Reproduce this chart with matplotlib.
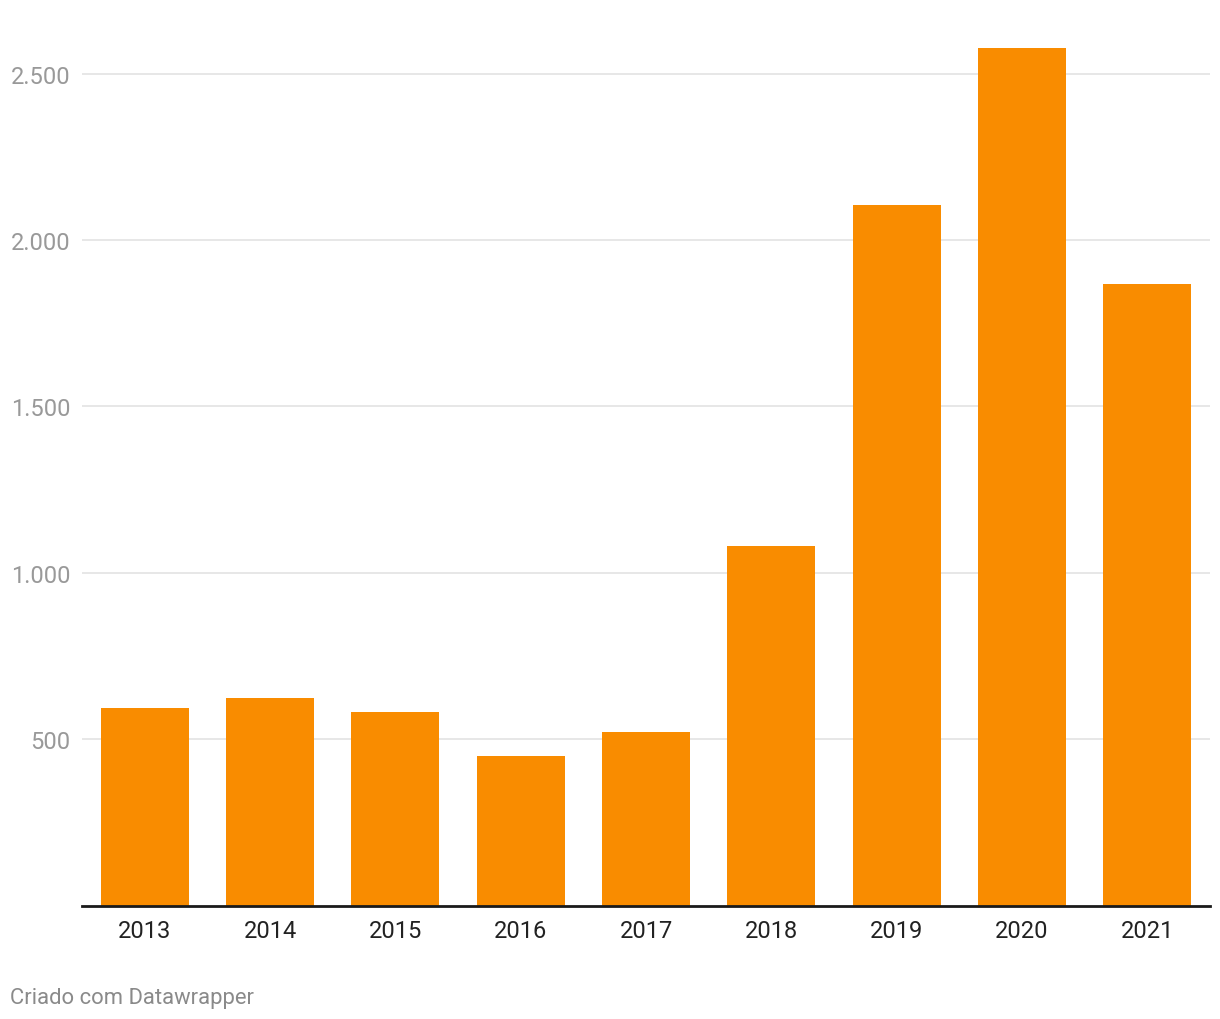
import matplotlib
matplotlib.use("Agg")
import matplotlib.pyplot as plt

years = ["2013", "2014", "2015", "2016", "2017", "2018", "2019", "2020", "2021"]
values = [592, 625, 580, 448, 520, 1079, 2106, 2578, 1866]
yticks = [500, 1000, 1500, 2000, 2500]
ytick_labels = ["500", "1.000", "1.500", "2.000", "2.500"]

plt.rcParams['font.family'] = ['Roboto', 'DejaVu Sans']

W, H = 1220, 1020
fig = plt.figure(figsize=(W / 100, H / 100), dpi=100)
left, right = 82 / W, 1210 / W
bottom = (H - 906.5) / H
top_px = 906.5 - 2600 * (832 / 2500)
top = (H - top_px) / H
ax = fig.add_axes([left, bottom, right - left, top - bottom])

x = list(range(len(years)))
ax.bar(x, values, width=0.7, color="#f98c00", zorder=2)
ax.set_xlim(-0.5, len(years) - 0.5)
ax.set_ylim(0, 2600)

for t in yticks:
    ax.axhline(t, color="#e5e5e5", lw=1.3, zorder=1)

for s in ["top", "right", "left"]:
    ax.spines[s].set_visible(False)
ax.spines["bottom"].set_color("#1a1a1a")
ax.spines["bottom"].set_linewidth(2)
ax.spines["bottom"].set_zorder(3)

ax.set_xticks(x)
ax.set_xticklabels(years, fontsize=17, color="#222222")
ax.tick_params(axis="x", length=0, pad=10)
ax.set_yticks(yticks)
ax.set_yticklabels(ytick_labels, fontsize=17, color="#999999")
ax.tick_params(axis="y", length=0, pad=8.5)

fig.text(10 / W, (H - 999) / H, "Criado com Datawrapper", fontsize=15.8,
         color="#8a8a8a", ha="left", va="center")

fig.savefig("out.png", dpi=100, facecolor="white")
